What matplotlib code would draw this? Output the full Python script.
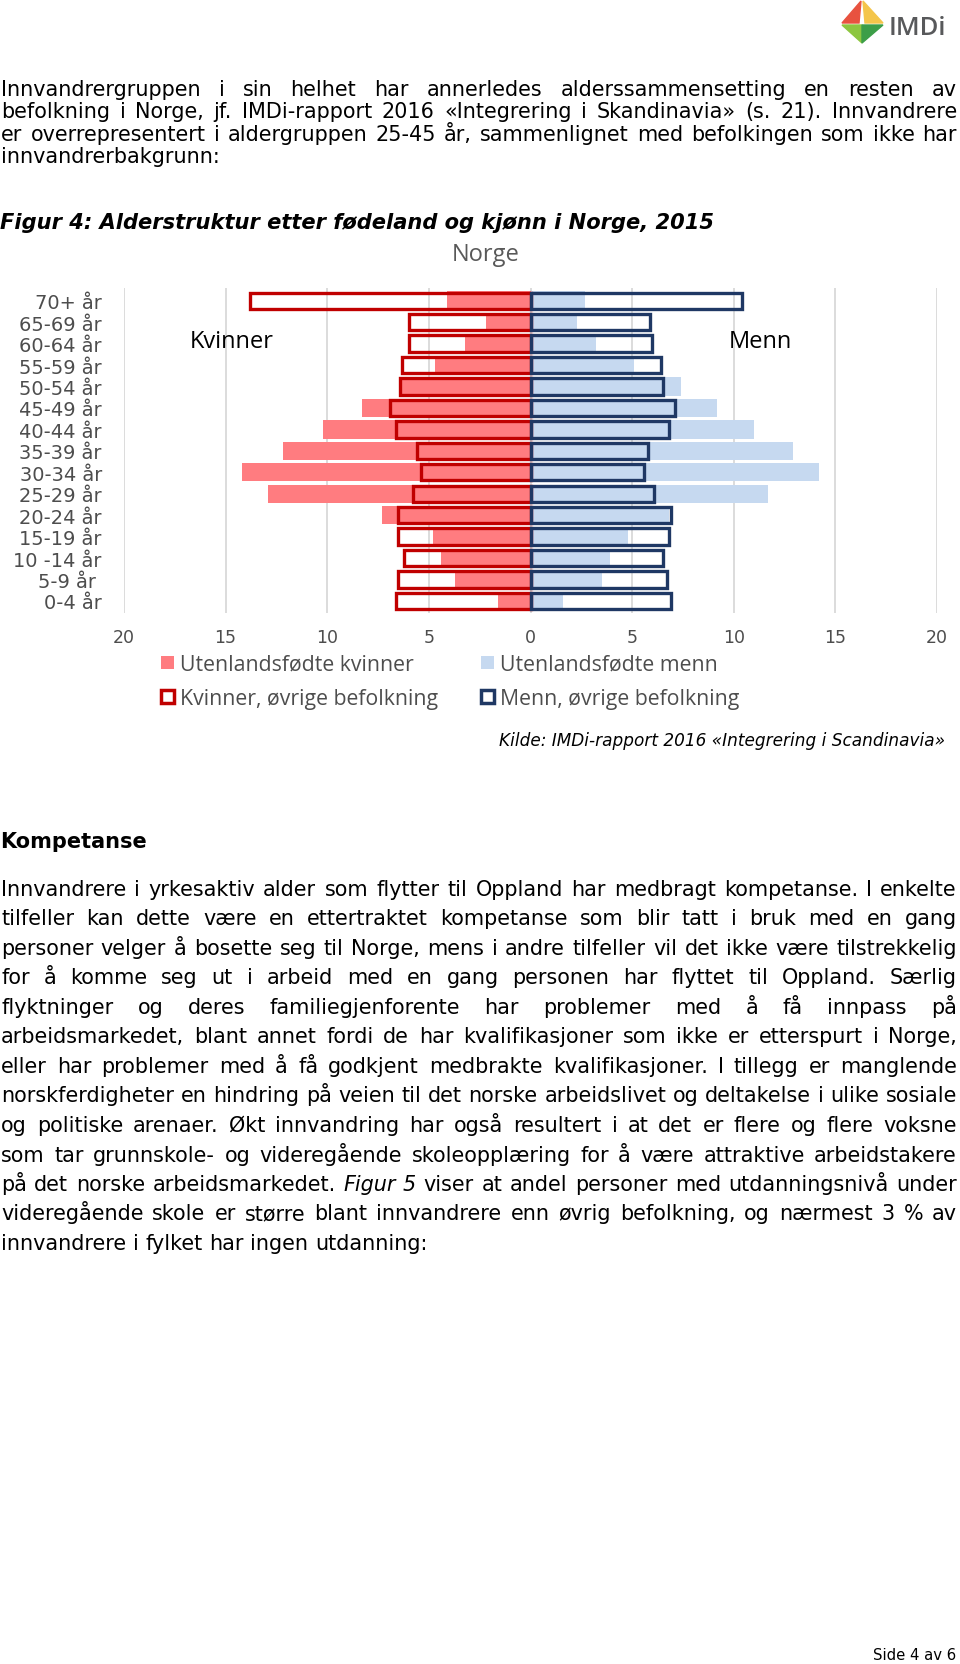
import matplotlib
matplotlib.use("Agg")
import matplotlib.pyplot as plt
from matplotlib.patches import Patch, Polygon

W, H = 960, 1665

# --- data (andel i prosent) ---
aldersgrupper = ["0-4 år", "5-9 år ", "10 -14 år", "15-19 år", "20-24 år", "25-29 år",
                 "30-34 år", "35-39 år", "40-44 år", "45-49 år", "50-54 år", "55-59 år",
                 "60-64 år", "65-69 år", "70+ år"]
utl_kvinner = [1.6, 3.7, 4.4, 4.8, 7.3, 12.9, 14.2, 12.2, 10.2, 8.3, 6.4, 4.7, 3.2, 2.2, 4.1]
ovr_kvinner = [6.6, 6.5, 6.2, 6.5, 6.5, 5.8, 5.4, 5.6, 6.6, 6.9, 6.4, 6.3, 6.0, 6.0, 13.8]
utl_menn = [1.6, 3.5, 3.9, 4.8, 6.8, 11.7, 14.2, 12.9, 11.0, 9.2, 7.4, 5.1, 3.2, 2.3, 2.7]
ovr_menn = [6.9, 6.7, 6.5, 6.8, 6.9, 6.1, 5.6, 5.8, 6.8, 7.1, 6.5, 6.4, 6.0, 5.9, 10.4]
xticks = [-20, -15, -10, -5, 0, 5, 10, 15, 20]

avsnitt1 = [
    "Innvandrergruppen i sin helhet har annerledes alderssammensetting en resten av",
    "befolkning i Norge, jf. IMDi-rapport 2016 «Integrering i Skandinavia» (s. 21). Innvandrere",
    "er overrepresentert i aldergruppen 25-45 år, sammenlignet med befolkingen som ikke har",
    "innvandrerbakgrunn:",
]
avsnitt2 = [
    "Innvandrere i yrkesaktiv alder som flytter til Oppland har medbragt kompetanse. I enkelte",
    "tilfeller kan dette være en ettertraktet kompetanse som blir tatt i bruk med en gang",
    "personer velger å bosette seg til Norge, mens i andre tilfeller vil det ikke være tilstrekkelig",
    "for å komme seg ut i arbeid med en gang personen har flyttet til Oppland. Særlig",
    "flyktninger og deres familiegjenforente har problemer med å få innpass på",
    "arbeidsmarkedet, blant annet fordi de har kvalifikasjoner som ikke er etterspurt i Norge,",
    "eller har problemer med å få godkjent medbrakte kvalifikasjoner. I tillegg er manglende",
    "norskferdigheter en hindring på veien til det norske arbeidslivet og deltakelse i ulike sosiale",
    "og politiske arenaer. Økt innvandring har også resultert i at det er flere og flere voksne",
    "som tar grunnskole- og videregående skoleopplæring for å være attraktive arbeidstakere",
    "på det norske arbeidsmarkedet. _Figur _5 viser at andel personer med utdanningsnivå under",
    "videregående skole er st\u00f8rre blant innvandrere enn øvrig befolkning, og nærmest 3 % av",
    "innvandrere i fylket har ingen utdanning:",
]

fig = plt.figure(figsize=(W / 100, H / 100), dpi=100)
r = fig.canvas.get_renderer()
X0, X1 = 1, 957


def fy(y):
    return 1 - y / H


def bredde(tekst, fs, **kw):
    t = fig.text(0, 0, tekst, fontsize=fs, **kw)
    b = t.get_window_extent(r).width
    t.remove()
    return b


def tilpass(tekst, b, **kw):
    return 10 * b / bredde(tekst, 10, **kw)


def justert(linjer, y0, dy, fs):
    mellomrom = bredde("a b", fs) - bredde("ab", fs)
    for i, linje in enumerate(linjer):
        y = fy(y0 + i * dy)
        ordene = linje.split()
        tekster = []
        for o in ordene:
            stil = "normal"
            if o.startswith("_"):
                o, stil = o[1:], "italic"
            tekster.append(fig.text(0, y, o, fontsize=fs, style=stil, va="baseline", color="black"))
        bredder = [t.get_window_extent(r).width for t in tekster]
        if i == len(linjer) - 1:
            gap = mellomrom
        else:
            gap = (X1 - X0 - sum(bredder)) / (len(ordene) - 1)
        x = X0
        for t, b in zip(tekster, bredder):
            t.set_x(x / W)
            x += b + gap


fs = min(tilpass(avsnitt1[1], X1 - X0), tilpass(avsnitt2[7], X1 - X0))
justert(avsnitt1, 96, 22.4, fs)
justert(avsnitt2, 896, 29.5, fs)

tittel = "Figur 4: Alderstruktur etter fødeland og kjønn i Norge, 2015"
fig.text(0, fy(229), tittel, weight="bold", style="italic", va="baseline",
         fontsize=tilpass(tittel, 713, weight="bold", style="italic"))
fig.text(0, fy(848), "Kompetanse", weight="bold", va="baseline",
         fontsize=tilpass("Kompetanse", 147, weight="bold"))
kilde = "Kilde: IMDi-rapport 2016 «Integrering i Scandinavia»"
fig.text(945 / W, fy(746), kilde, style="italic", ha="right", va="baseline",
         fontsize=tilpass(kilde, 443, style="italic"))
fig.text(956 / W, fy(1660), "Side 4 av 6", ha="right", va="baseline",
         fontsize=tilpass("Side 4 av 6", 83))

# logo
for pts, c in [([(861, 2), (842, 24), (859, 24)], "#E8523F"),
               ([(863, 2), (883, 24), (865, 24)], "#F4C54A"),
               ([(842, 26), (862, 44), (862, 26)], "#8DC63F"),
               ([(883, 26), (862, 44), (862, 26)], "#3C9E48")]:
    fig.add_artist(Polygon([(x / W, fy(y)) for x, y in pts], closed=True, color=c,
                           transform=fig.transFigure))
fig.text(889 / W, fy(35), "IMDi", color="#58595B", va="baseline", weight="semibold",
         fontsize=tilpass("IMDi", 57, family="Open Sans", weight="semibold"), family="Open Sans")

# --- diagram ---
grå = "#4D4D4D"
kf = "Open Sans"
ax = fig.add_axes([124 / W, fy(614), (937 - 124) / W, 325 / H])
y = list(range(len(aldersgrupper)))
ax.barh(y, [-v for v in utl_kvinner], height=0.86, color="#FF7C80", zorder=2)
ax.barh(y, utl_menn, height=0.86, color="#C6D9F0", zorder=2)
ax.barh(y, [-v for v in ovr_kvinner], height=0.76, facecolor="none", edgecolor="#C00000",
        linewidth=2.4, zorder=3)
ax.barh(y, ovr_menn, height=0.76, facecolor="none", edgecolor="#1F3864",
        linewidth=2.4, zorder=3)
ax.set_xlim(-20, 20)
ax.set_ylim(-0.56, 14.59)
ax.set_xticks(xticks)
ax.set_xticklabels([str(abs(v)) for v in xticks], fontsize=12.5, color=grå)
ax.set_yticks(y)
ax.set_yticklabels(aldersgrupper, fontsize=tilpass("10 -14 år", 88), color=grå)
ax.tick_params(length=0, pad=11)
ax.tick_params(axis="y", pad=16)
ax.grid(axis="x", color="#D9D9D9", linewidth=1.3)
ax.set_axisbelow(True)
for s in ax.spines.values():
    s.set_visible(False)
ax.text(-14.7, 12.1, "Kvinner", ha="center", va="center", family=kf, fontsize=17)
ax.text(11.3, 12.1, "Menn", ha="center", va="center", family=kf, fontsize=17)
fig.text(486 / W, fy(255), "Norge", ha="center", va="center", family=kf, fontsize=17, color="#595959")

handles = [Patch(facecolor="#FF7C80"),
           Patch(facecolor="white", edgecolor="#C00000", linewidth=2.5),
           Patch(facecolor="#C6D9F0"),
           Patch(facecolor="white", edgecolor="#1F3864", linewidth=2.5)]
labels = ["Utenlandsfødte kvinner", "Kvinner, øvrige befolkning",
          "Utenlandsfødte menn", "Menn, øvrige befolkning"]
fig.legend(handles, labels, ncol=2, loc="upper left", bbox_to_anchor=(161 / W, fy(655)),
           frameon=False, handlelength=0.6, handleheight=0.6, handletextpad=0.3,
           columnspacing=2.0, labelspacing=0.6, borderaxespad=0, borderpad=0,
           prop={"family": kf, "size": 15.3}, labelcolor=grå)

fig.savefig("out.png", dpi=100, facecolor="white")
